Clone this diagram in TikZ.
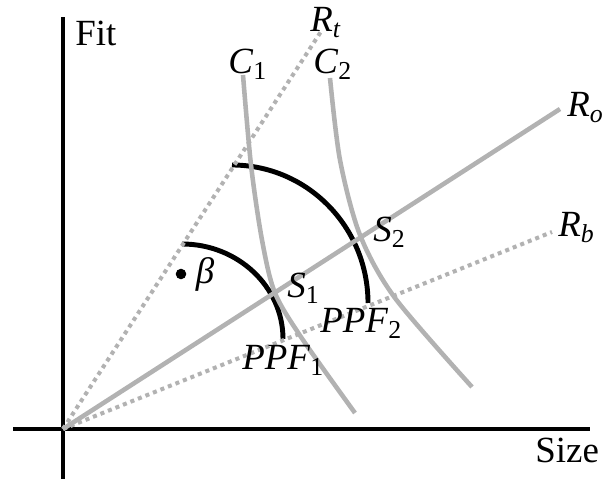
\documentclass[tikz,border=0pt]{standalone}
\usepackage{fontspec}
\setmainfont{Liberation Serif}
\usetikzlibrary{positioning}
\definecolor{curvegray}{RGB}{178,178,178}
\tikzset{
  axisline/.style={line width=1.8pt},
  ray/.style={curvegray, line width=2.6pt},
  dotray/.style={curvegray, line width=2.3pt, dash pattern=on 2.3pt off 2.3pt},
  ppfarc/.style={line width=2.8pt},
  iso/.style={curvegray, line width=2.6pt},
  lbl/.style={anchor=base west, inner sep=0pt, font=\fontsize{21}{25}\selectfont},
}
\newcommand{\lab}[2]{\textit{#1}\textsubscript{#2}}

\begin{document}
\begin{tikzpicture}[x=0.02cm,y=-0.02cm]
\useasboundingbox (0,0) rectangle (605,479);
% Define the points
\coordinate (O) at (63,429);
\coordinate (fittop) at (63,17);
\coordinate (fitbot) at (63,479);
\coordinate (sizeleft) at (13,429);
\coordinate (sizeright) at (590,429);
\coordinate (Rt) at (322,30);
\coordinate (Ro) at (560,109);
\coordinate (Rb) at (552,232);

% Draw the axes
\draw[axisline] (fitbot) -- (fittop);
\draw[axisline] (sizeleft) -- (sizeright);

% Draw the frontiers
\draw[ppfarc] (182,244) arc[start angle=-90, end angle=0, x radius=101, y radius=95];
\draw[ppfarc] (232,165) arc[start angle=-90, end angle=0, x radius=136, y radius=138];

% Draw the rays
\draw[dotray] (O) -- (Rt);
\draw[dotray] (O) -- (Rb);
\draw[ray] (O) -- (Ro);

% Draw the curves
\draw[iso] plot[smooth] coordinates {(243,75) (251,165) (262,240) (275,293) (303,340) (355,413)};
\draw[iso] plot[smooth] coordinates {(330,78) (340,160) (360,235) (395,298) (472,387)};

% Labels
\node[lbl] (fit) at (75,46) {Fit};
\node[lbl] (size) at (535,462) {Size};
\node[lbl] (labRt) at (310,32) {\lab{R}{\itshape t}};
\node[lbl] (labRo) at (567,117) {\lab{R}{\itshape o}};
\node[lbl] (labRb) at (558,237) {\lab{R}{\itshape b}};
\node[lbl] (labC1) at (228,74) {\lab{C}{1}};
\node[lbl] (labC2) at (313,74) {\lab{C}{2}};
\node[lbl] (labS1) at (287,298) {\lab{S}{1}};
\node[lbl] (labS2) at (373,242) {\lab{S}{2}};
\node[lbl] (labP1) at (242,370) {\lab{PPF}{1}};
\node[lbl] (labP2) at (320,333) {\lab{PPF}{2}};
\node[circle, fill, inner sep=0pt, minimum size=6pt] (betadot) at (181,274) {};
\node[font=\fontsize{21}{25}\selectfont\itshape, inner sep=0pt, right=5pt of betadot] (beta) {β};
\end{tikzpicture}
\end{document}
